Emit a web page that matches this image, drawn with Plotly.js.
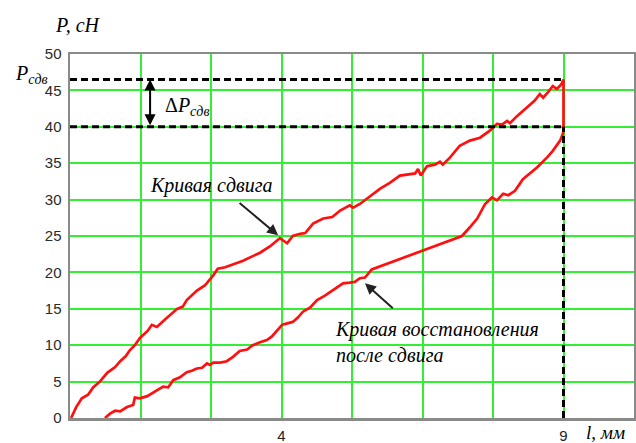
<!DOCTYPE html>
<html>
<head>
<meta charset="utf-8">
<script src="https://cdn.plot.ly/plotly-3.0.1.min.js"></script>
<style>html,body{margin:0;padding:0;background:#fff;}#chart{width:636px;height:443px;}</style>
</head>
<body>
<div id="chart"></div>
<script>
// Shear curve (loading), l in mm, P in cN
const shearX = [0.27,0.36,0.46,0.57,0.66,0.78,0.91,1.05,1.14,1.24,1.31,1.40,1.49,1.63,1.70,1.79,1.93,2.15,2.25,2.32,2.50,2.64,2.79,2.87,3.00,3.18,3.32,3.48,3.62,3.80,3.97,4.10,4.20,4.33,4.42,4.56,4.74,4.90,5.04,5.21,5.27,5.39,5.57,5.75,5.92,6.10,6.37,6.42,6.47,6.58,6.72,6.81,6.86,6.99,7.16,7.34,7.52,7.70,7.82,7.91,8.00,8.05,8.18,8.35,8.49,8.58,8.64,8.73,8.81,8.88,8.96,9.0,9.0];
const shearY = [0,1.5,2.7,3.2,4.2,5.0,6.2,7.0,7.8,8.5,9.3,10.0,11.0,12.0,12.8,12.5,13.5,15.0,15.3,16.2,17.5,18.2,19.6,20.5,20.7,21.2,21.6,22.2,22.7,23.6,24.7,24.0,25.0,25.3,25.4,26.7,27.4,27.6,28.5,29.2,28.9,29.4,30.4,31.5,32.3,33.3,33.6,34.2,33.3,34.6,34.8,35.2,34.8,35.8,37.4,38.1,38.5,39.5,40.4,40.3,40.8,40.5,41.5,42.6,43.6,44.5,44.0,44.8,45.6,45.2,45.8,46.5,39.3];
// Recovery curve after shear
const recX = [0.87,0.96,1.05,1.14,1.26,1.37,1.40,1.49,1.62,1.76,1.90,1.99,2.08,2.20,2.32,2.41,2.50,2.59,2.68,2.73,2.79,2.91,3.03,3.14,3.26,3.39,3.49,3.62,3.74,3.83,3.92,4.01,4.10,4.20,4.29,4.38,4.51,4.63,4.77,4.91,5.09,5.21,5.30,5.39,5.48,5.60,7.11,7.20,7.34,7.47,7.61,7.73,7.82,7.93,8.02,8.14,8.28,8.41,8.53,8.71,8.81,8.94,9.0];
const recY = [0,0.6,1.0,0.9,1.5,1.8,2.8,2.7,3.0,3.6,4.3,4.2,5.2,5.6,6.3,6.5,6.8,6.9,7.5,7.3,7.6,7.6,7.8,8.4,9.2,9.4,10.0,10.4,10.7,11.2,12.0,12.8,13.0,13.2,13.8,14.6,15.2,16.2,16.8,17.5,18.5,18.6,18.7,19.2,19.3,20.4,24.7,25.0,26.2,27.4,29.4,30.3,29.9,30.8,30.6,31.2,32.8,33.6,34.4,35.8,36.7,38.1,39.3];
// Reference levels
const pShear = 46.5;
const pRest = 40;
const lEnd = 9;
const xMin = 0.25;
// Grid / tick positions along l
const xGrid = [0.25,1.5,2.75,4,5.25,6.5,7.75,9,10.25];
const xTickText = ['','','','4','','','','9',''];
const yTicks = [0,5,10,15,20,25,30,35,40,45,50];

const serif = 'Liberation Serif, Times New Roman, serif';
const sans = 'Liberation Sans, Arial, sans-serif';
const red = '#ff1010';
const green = '#33ee33';

const traces = [
  {x: shearX, y: shearY, mode: 'lines', line: {color: red, width: 2.7}, hoverinfo: 'skip'},
  {x: recX, y: recY, mode: 'lines', line: {color: red, width: 2.7}, hoverinfo: 'skip'}
];

const dash = {color: '#000', width: 3, dash: '7px,4px'};
const layout = {
  width: 636, height: 443,
  margin: {l: 70, r: 2, t: 54, b: 25},
  paper_bgcolor: '#fff', plot_bgcolor: '#fff',
  showlegend: false,
  xaxis: {
    range: [xMin, 10.25], tickmode: 'array', tickvals: xGrid, ticktext: xTickText,
    showgrid: true, gridcolor: green, gridwidth: 2, zeroline: false,
    showline: true, linecolor: '#8a8a8a', linewidth: 2.5, mirror: true,
    ticks: '', tickfont: {family: sans, size: 15, color: '#222'}, ticklabelstandoff: 2
  },
  yaxis: {
    range: [0, 50], tickmode: 'array', tickvals: yTicks,
    showgrid: true, gridcolor: green, gridwidth: 2, zeroline: false,
    showline: true, linecolor: '#8a8a8a', linewidth: 2.5, mirror: true,
    ticks: '', tickfont: {family: sans, size: 15, color: '#2a2a2a'}, ticklabelstandoff: 3
  },
  shapes: [
    {type: 'line', xref: 'x', yref: 'y', x0: xMin, x1: lEnd, y0: pShear, y1: pShear, line: dash},
    {type: 'line', xref: 'x', yref: 'y', x0: xMin, x1: lEnd, y0: pRest, y1: pRest, line: dash},
    {type: 'line', xref: 'x', yref: 'y', x0: lEnd, x1: lEnd, y0: 0, y1: pRest, line: dash}
  ],
  annotations: [
    {xref: 'paper', yref: 'paper', x: 0.015, y: 1.08, text: '<i>P, сН</i>', showarrow: false,
     xanchor: 'center', yanchor: 'middle', font: {family: serif, size: 20, color: '#000'}},
    {xref: 'paper', yref: 'paper', x: -0.068, y: 0.945, text: '<i>P<sub>сдв</sub></i>', showarrow: false,
     xanchor: 'center', yanchor: 'middle', font: {family: serif, size: 20, color: '#000'}},
    {xref: 'paper', yref: 'paper', x: 0.95, y: -0.04, text: '<i>l, мм</i>', showarrow: false,
     xanchor: 'center', yanchor: 'middle', font: {family: serif, size: 19, color: '#000'}},
    {xref: 'x', yref: 'y', x: 1.67, y: pShear, ax: 1.67, ay: pRest, axref: 'x', ayref: 'y',
     text: '', showarrow: true, arrowhead: 2, arrowside: 'end+start', arrowsize: 1.1, arrowwidth: 2, arrowcolor: '#000'},
    {xref: 'paper', yref: 'paper', x: 0.165, y: 0.855, text: 'Δ<i>P<sub>сдв</sub></i>', showarrow: false,
     xanchor: 'left', yanchor: 'middle', font: {family: serif, size: 20, color: '#000'}},
    {xref: 'paper', yref: 'paper', x: 0.138, y: 0.64, text: '<i>Кривая сдвига</i>', showarrow: false,
     xanchor: 'left', yanchor: 'middle', font: {family: serif, size: 20, color: '#000'}},
    {xref: 'x', yref: 'y', x: 3.94, y: 25.1, ax: 3.23, ay: 29.7, axref: 'x', ayref: 'y',
     text: '', showarrow: true, arrowhead: 2, arrowsize: 1.1, arrowwidth: 2, arrowcolor: '#222'},
    {xref: 'paper', yref: 'paper', x: 0.466, y: 0.209, text: '<i>Кривая восстановления<br>после сдвига</i>', showarrow: false,
     xanchor: 'left', yanchor: 'middle', align: 'left', font: {family: serif, size: 20, color: '#000'}},
    {xref: 'x', yref: 'y', x: 5.48, y: 18.5, ax: 6.0, ay: 14.9, axref: 'x', ayref: 'y',
     text: '', showarrow: true, arrowhead: 2, arrowsize: 1.1, arrowwidth: 2, arrowcolor: '#222'}
  ]
};

Plotly.newPlot('chart', traces, layout, {staticPlot: true, displayModeBar: false});
</script>
</body>
</html>
